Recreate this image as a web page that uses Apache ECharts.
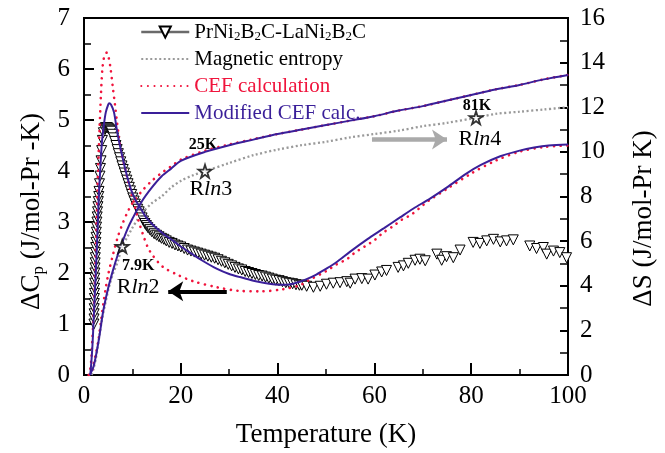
<!DOCTYPE html>
<html><head><meta charset="utf-8">
<script src="https://cdn.jsdelivr.net/npm/echarts@6/dist/echarts.min.js"></script>
<style>html,body{margin:0;padding:0;background:#fff}#c{width:665px;height:453px}</style>
</head><body><div id="c"></div>
<script>
// ---- measured data (ΔCp, J/mol-Pr-K) ----
const dataT = [2.05,2.07,2.09,2.11,2.13,2.15,2.17,2.19,2.21,2.23,2.25,2.28,2.31,2.34,2.38,2.42,2.46,2.5,2.55,2.6,2.67,2.73,2.8,2.88,2.96,3.05,3.1,3.2,3.3,3.4,3.52,3.65,3.8,4.0,4.2,4.4,4.6,4.8,5.0,5.2,5.4,5.6,5.85,6.1,6.35,6.6,6.85,7.1,7.35,7.6,7.85,8.1,8.35,8.6,8.85,9.1,9.35,9.6,9.85,10.1,10.35,10.6,10.85,11.1,11.4,11.7,12.0,12.3,12.6,12.9,13.2,13.6,14.0,14.5,15.0,15.5,16.0,16.5,17.0,17.6,18.2,18.8,19.4,20.0,20.7,21.4,22.1,22.8,23.5,24.2,24.9,25.6,26.3,27.0,27.7,28.4,29.1,29.8,30.5,31.2,31.9,32.6,33.3,34.0,34.7,35.4,36.1,36.8,37.5,38.2,38.9,39.6,40.3,41.0,41.7,42.4,43.1,43.8,44.5,45.0,46.0,47.4,48.8,50.1,51.5,52.9,54.3,55.0,56.0,57.4,58.7,60.1,61.5,62.5,64.9,66.0,67.0,68.4,69.4,70.5,72.9,73.9,74.9,76.3,77.7,80.4,81.8,83.2,84.6,86.0,87.3,88.7,92.1,93.5,94.9,95.6,97.0,98.3,99.7];
const dataCp = [1.0,1.1,1.2,1.3,1.4,1.5,1.6,1.7,1.8,1.9,2.0,2.1,2.2,2.3,2.4,2.5,2.6,2.7,2.8,2.9,3.0,3.1,3.2,3.3,3.4,3.5,3.6,3.75,3.9,4.05,4.2,4.4,4.6,4.75,4.83,4.85,4.85,4.85,4.84,4.82,4.8,4.78,4.72,4.65,4.58,4.5,4.42,4.34,4.26,4.18,4.1,4.03,3.96,3.89,3.82,3.75,3.68,3.61,3.54,3.47,3.41,3.35,3.3,3.25,3.2,3.14,3.08,3.02,2.97,2.93,2.89,2.85,2.81,2.77,2.74,2.71,2.68,2.66,2.63,2.6,2.58,2.55,2.53,2.51,2.48,2.45,2.43,2.41,2.39,2.37,2.35,2.33,2.31,2.29,2.26,2.23,2.2,2.17,2.14,2.11,2.08,2.06,2.03,2.01,1.99,1.97,1.95,1.94,1.92,1.9,1.88,1.86,1.85,1.83,1.81,1.8,1.79,1.77,1.76,1.76,1.74,1.72,1.74,1.78,1.8,1.81,1.83,1.8,1.88,1.89,1.88,1.96,2.02,2.05,2.11,2.14,2.19,2.25,2.27,2.24,2.37,2.25,2.32,2.3,2.45,2.6,2.58,2.63,2.66,2.61,2.63,2.65,2.53,2.48,2.5,2.37,2.43,2.4,2.3];

// CEF calculation (red dotted) – Cp
const cefT  = [1.0,1.2,1.5,1.7,2.0,2.3,2.6,2.9,3.2,3.5,3.8,4.2,4.7,5.1,5.5,6.0,6.4,6.8,7.2,7.6,8.3,8.9,9.5,10.3,11.2,12.2,13.2,14.3,16.3,19.2,22.5,27.5,32.0,36.4,41.0,44.6,46.3,50.1,52.2,54.3,56.0,58.0,60.1,61.8,63.9,65.6,67.7,69.4,71.1,75.0,80.0,85.0,90.0,95.0,100.0];
const cefCp = [0.0,0.05,0.3,0.65,1.2,2.0,3.0,4.0,4.8,5.5,6.0,6.25,6.32,6.22,6.0,5.6,5.3,4.97,4.68,4.42,4.12,3.88,3.65,3.38,3.05,2.75,2.5,2.33,2.12,1.97,1.84,1.72,1.65,1.64,1.68,1.76,1.85,2.04,2.17,2.27,2.4,2.52,2.65,2.79,2.92,3.04,3.15,3.28,3.41,3.65,3.95,4.2,4.38,4.47,4.5];
// CEF calculation – entropy
const cefST = [1.0,1.5,2.0,2.5,3.0,3.5,4.0,4.5,5.0,6.0,7.0,8.0,9.0,10.0,12.0,14.0,16.0,18.0,20.0,25.0,30.0,35.0,40.0,45.0,50.0,55.0,60.0,65.0,70.0,75.0,80.0,85.0,90.0,95.0,100.0];
const cefS  = [0.0,0.1,0.5,1.0,1.6,2.4,3.2,3.9,4.5,5.4,6.2,6.8,7.3,7.7,8.25,8.7,9.05,9.35,9.65,10.05,10.33,10.57,10.8,11.0,11.2,11.4,11.6,11.85,12.05,12.3,12.55,12.8,13.0,13.25,13.45];

// Modified CEF calc. (blue) – Cp
const modT  = [1.3,1.7,2.1,2.4,2.7,3.1,3.4,3.7,4.1,4.5,5.0,5.2,5.6,6.2,6.8,7.6,8.7,9.7,10.7,11.8,13.0,14.5,16.5,18.6,20.0,21.9,24.5,27.5,30.0,32.2,35.0,39.0,42.0,44.6,46.0,48.0,50.0,52.0,55.0,58.5,62.0,65.3,68.0,71.5,75.0,79.0,82.0,86.0,90.0,93.0,96.0,100.0];
const modCp = [0.0,0.5,1.3,1.95,2.6,3.58,4.1,4.56,4.9,5.15,5.3,5.33,5.3,5.15,4.8,4.42,3.97,3.64,3.42,3.25,3.07,2.92,2.76,2.62,2.52,2.4,2.24,2.08,1.98,1.92,1.85,1.78,1.77,1.83,1.88,1.97,2.08,2.2,2.42,2.66,2.88,3.09,3.26,3.46,3.68,3.95,4.12,4.29,4.4,4.46,4.5,4.52];
// Modified CEF calc. – entropy
const modST = [1.2,2.0,3.0,4.0,5.0,6.0,7.0,8.0,9.0,10.0,12.0,14.0,16.0,18.0,20.0,25.0,30.0,35.0,40.0,45.0,50.0,55.0,60.0,65.0,70.0,75.0,80.0,85.0,90.0,95.0,100.0];
const modS  = [0.0,0.4,1.5,2.9,3.9,4.7,5.4,6.0,6.55,7.0,7.8,8.4,8.9,9.25,9.6,10.0,10.3,10.55,10.8,11.0,11.2,11.4,11.6,11.85,12.05,12.3,12.55,12.8,13.0,13.25,13.45];

// Magnetic entropy (grey dotted)
const entT = [1.6,2.0,2.5,3.0,3.5,4.0,4.5,5.0,5.5,6.0,7.0,7.9,9.0,10.0,11.0,12.0,14.0,16.0,18.0,20.0,22.5,25.0,30.0,35.0,40.0,45.0,50.0,55.0,60.0,65.0,70.0,75.0,81.0,85.0,90.0,95.0,100.0];
const entS = [0.0,0.3,0.8,1.5,2.2,2.8,3.3,3.8,4.2,4.55,5.1,5.76,6.2,6.6,6.95,7.25,7.7,8.0,8.4,8.7,8.95,9.13,9.5,9.85,10.1,10.3,10.45,10.65,10.8,10.95,11.15,11.3,11.53,11.7,11.8,11.9,12.0];

// R ln2, R ln3, R ln4 markers
const starT = [7.9, 25, 81];
const starS = [5.76, 9.13, 11.53];
const starLabelT = ['7.9K', '25K', '81K'];
const rlnText = ['2', '3', '4'];

const xTicks = {min:0, max:100, interval:20};
const yLeft = {min:0, max:7, interval:1};
const yRight = {min:0, max:16, interval:2};

const zip = (a,b) => a.map((v,i)=>[v,b[i]]);
const FONT = "'Liberation Serif', serif";
const RED = '#f0143c', BLUE = '#3a1f99', GREY = '#9a9a9a';
const starPath = 'path://M50,2 L61,36 L97,36 L68,57 L79,92 L50,71 L21,92 L32,57 L3,36 L39,36 Z';

const chart = echarts.init(document.getElementById('c'), null, {renderer:'canvas'});

const annLabelSmall = (txt, t, s) => ({coord:[t,s], value:txt, symbol:'rect', symbolSize:1,
  itemStyle:{color:'rgba(0,0,0,0)'},
  label:{show:true, position:'inside', formatter:'{b|'+txt+'}', color:'#000', fontFamily:FONT,
    rich:{b:{fontFamily:FONT, fontWeight:'bold', fontSize:16, color:'#000'}}}});
const annRln = (n, t, s) => ({coord:[t,s], value:n, symbol:'rect', symbolSize:1,
  itemStyle:{color:'rgba(0,0,0,0)'},
  label:{show:true, position:'inside', formatter:'{n|R}{i|ln}{n|'+n+'}', color:'#000', fontFamily:FONT,
    rich:{n:{fontFamily:FONT, fontSize:22, color:'#000'},
          i:{fontStyle:'italic', fontFamily:FONT, fontSize:22, color:'#000'}}}});

const axisCommon = {
  axisLine:{show:true, onZero:false, lineStyle:{color:'#000', width:2}},
  splitLine:{show:false},
  axisLabel:{color:'#000', fontFamily:FONT, fontSize:25}
};

const legendNames = ['PrNi2B2C-LaNi2B2C','Magnetic entropy','CEF calculation','Modified CEF calc.'];
const noSym = {color:'rgba(0,0,0,0)', borderWidth:0, opacity:0};

chart.setOption({
  animation:false,
  backgroundColor:'#fff',
  textStyle:{fontFamily:FONT},
  grid:{left:84, right:97, top:18, bottom:77, show:true, borderColor:'#000', borderWidth:2, backgroundColor:'transparent'},
  legend:{
    orient:'vertical', left:140, top:21, padding:0, itemGap:5, itemWidth:48, itemHeight:14,
    textStyle:{fontFamily:FONT, fontSize:21, lineHeight:22,
      rich:{
        n:{fontFamily:FONT, fontSize:21, lineHeight:22},
        s:{fontFamily:FONT, fontSize:13, lineHeight:10, verticalAlign:'bottom'}}},
    formatter: n => n===legendNames[0] ? '{n|PrNi}{s|2}{n|B}{s|2}{n|C-LaNi}{s|2}{n|B}{s|2}{n|C}' : '{n|'+n+'}',
    data:[
      {name:legendNames[0], textStyle:{color:'#000', fontFamily:FONT}, lineStyle:{color:'#6a6a6a', width:2.5, opacity:1, type:'solid'}},
      {name:legendNames[1], textStyle:{color:'#000', fontFamily:FONT}, itemStyle:noSym, lineStyle:{opacity:1}},
      {name:legendNames[2], textStyle:{color:RED, fontFamily:FONT}, itemStyle:noSym, lineStyle:{opacity:1}},
      {name:legendNames[3], textStyle:{color:BLUE, fontFamily:FONT}, itemStyle:noSym, lineStyle:{opacity:1}}
    ]
  },
  xAxis:Object.assign({}, axisCommon, {
    type:'value', min:xTicks.min, max:xTicks.max, interval:xTicks.interval,
    name:'{n|Temperature (K)}', nameLocation:'middle', nameGap:46,
    nameTextStyle:{color:'#000', fontFamily:FONT, rich:{n:{fontFamily:FONT, fontSize:27, color:'#000'}}},
    axisTick:{inside:true, length:12, lineStyle:{width:2, color:'#000'}},
    minorTick:{show:true, splitNumber:2, length:6, lineStyle:{width:1.5, color:'#000'}},
    axisLabel:Object.assign({}, axisCommon.axisLabel, {margin:9})
  }),
  yAxis:[
    Object.assign({}, axisCommon, {
      type:'value', position:'left', min:yLeft.min, max:yLeft.max, interval:yLeft.interval,
      name:'{n|ΔC}{s|p}{n| (J/mol-Pr -K)}', nameLocation:'middle', nameGap:32, nameRotate:90,
      nameTextStyle:{color:'#000', fontFamily:FONT, padding:[0,30,0,0],
        rich:{n:{fontFamily:FONT, fontSize:27, lineHeight:30, color:'#000'},
              s:{fontFamily:FONT, fontSize:17, lineHeight:14, verticalAlign:'bottom', color:'#000'}}},
      axisTick:{inside:true, length:10, lineStyle:{width:2, color:'#000'}},
      minorTick:{show:true, splitNumber:2, length:7, lineStyle:{width:1.5, color:'#000'}},
      axisLabel:Object.assign({}, axisCommon.axisLabel, {margin:14})
    }),
    Object.assign({}, axisCommon, {
      type:'value', position:'right', min:yRight.min, max:yRight.max, interval:yRight.interval,
      name:'{n|ΔS (J/mol-Pr K)}', nameLocation:'middle', nameGap:62, nameRotate:90,
      nameTextStyle:{color:'#000', fontFamily:FONT, padding:[0,44,0,0], rich:{n:{fontFamily:FONT, fontSize:27, color:'#000'}}},
      axisTick:{inside:true, length:8, lineStyle:{width:2, color:'#000'}},
      minorTick:{show:true, splitNumber:2, length:8, lineStyle:{width:1.5, color:'#000'}},
      axisLabel:Object.assign({}, axisCommon.axisLabel, {margin:12})
    })
  ],
  series:[
    {name:legendNames[0], type:'line', data:zip(dataT,dataCp), yAxisIndex:0,
      symbol:'triangle', symbolRotate:180, symbolSize:10, showSymbol:true, showAllSymbol:true,
      itemStyle:{color:'#fff', borderColor:'#000', borderWidth:1},
      lineStyle:{width:0, color:'#6a6a6a'}, z:2},
    {name:legendNames[1], type:'line', data:zip(entT,entS), yAxisIndex:1, showSymbol:false, smooth:0.3,
      itemStyle:{color:GREY}, lineStyle:{color:GREY, width:2.3, type:[2,2.5]}, z:3},
    {name:legendNames[2], type:'line', data:zip(cefT,cefCp), yAxisIndex:0, showSymbol:false, smooth:0.3,
      itemStyle:{color:RED}, lineStyle:{color:RED, width:2.6, type:[0.1,6.5], cap:'round'}, z:4},
    {name:legendNames[2], type:'line', data:zip(cefST,cefS), yAxisIndex:1, showSymbol:false, smooth:0.3,
      itemStyle:{color:RED}, lineStyle:{color:RED, width:2.6, type:[0.1,6.5], cap:'round'}, z:4},
    {name:legendNames[3], type:'line', data:zip(modT,modCp), yAxisIndex:0, showSymbol:false, smooth:0.3,
      itemStyle:{color:BLUE}, lineStyle:{color:BLUE, width:2}, z:5},
    {name:legendNames[3], type:'line', data:zip(modST,modS), yAxisIndex:1, showSymbol:false, smooth:0.3,
      itemStyle:{color:BLUE}, lineStyle:{color:BLUE, width:2}, z:5},
    {name:'stars', type:'scatter', yAxisIndex:1, data:zip(starT,starS),
      symbol:starPath, symbolSize:13, itemStyle:{color:'#fff', borderColor:'#000', borderWidth:1.8}, z:8,
      markPoint:{silent:true, data:[
        annLabelSmall(starLabelT[0], 11.2, 4.87), annRln(rlnText[0], 11.2, 3.93),
        annLabelSmall(starLabelT[1], 24.6, 10.32), annRln(rlnText[1], 26.2, 8.31),
        annLabelSmall(starLabelT[2], 81.2, 12.07), annRln(rlnText[2], 81.8, 10.55)
      ]},
      markLine:{silent:true, symbol:['none','arrow'], symbolSize:15, label:{show:false},
        data:[
          [{coord:[29.5,3.75], lineStyle:{color:'#000', width:4, type:'solid'}, itemStyle:{color:'#000'}}, {coord:[17.4,3.75], itemStyle:{color:'#000'}}],
          [{coord:[59.5,10.55], lineStyle:{color:'#aaaaaa', width:4.5, type:'solid'}, itemStyle:{color:'#aaaaaa'}}, {coord:[75.0,10.55], itemStyle:{color:'#aaaaaa'}}]
        ]}
    }
  ]
});
</script></body></html>
